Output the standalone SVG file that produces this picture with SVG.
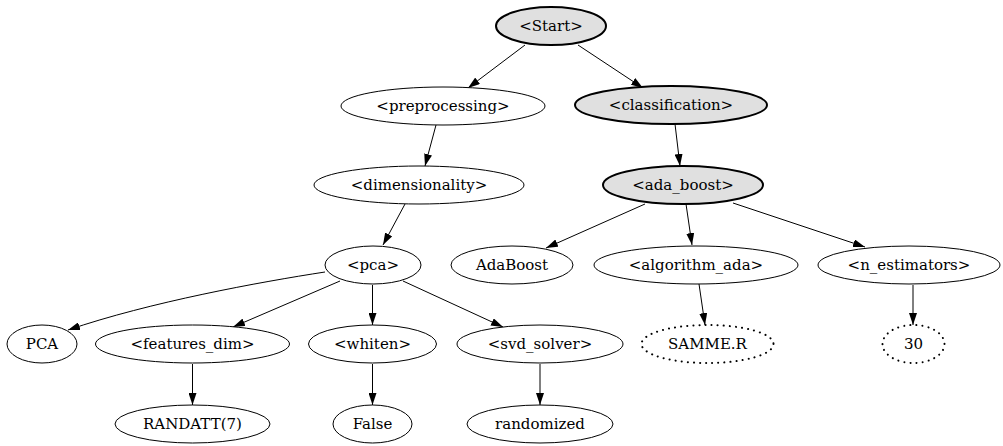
<svg xmlns="http://www.w3.org/2000/svg" width="1003" height="446" viewBox="0 0 1003 446">
<defs>
<marker id="ah" markerUnits="userSpaceOnUse" markerWidth="12" markerHeight="8" refX="12" refY="4" orient="auto">
<path d="M0,0 L12,4 L0,8 z" fill="#000"/>
</marker>
<style>
.n ellipse{fill:#fff;stroke:#000;stroke-width:1}
.g ellipse{fill:#e0e0e0;stroke:#000;stroke-width:2}
.d ellipse{fill:#fff;stroke:#000;stroke-width:2;stroke-dasharray:0.1 6;stroke-linecap:round}
text{font-family:"DejaVu Serif",serif;font-size:15px;text-anchor:middle;dominant-baseline:central;fill:#000}
#edges path,#edges line{stroke:#000;stroke-width:1;fill:none;marker-end:url(#ah)}
</style>
</defs>
<rect width="1003" height="446" fill="#fff"/>
<g id="edges">
<line x1="525" y1="45" x2="468" y2="88"/>
<line x1="578" y1="45" x2="643" y2="88"/>
<line x1="436" y1="125" x2="425" y2="166"/>
<line x1="675" y1="124" x2="680" y2="166"/>
<line x1="405" y1="204" x2="383" y2="245"/>
<path d="M325,272 C260,282 150,302 68,330"/>
<line x1="340" y1="281" x2="233" y2="327"/>
<line x1="372.5" y1="285" x2="372.5" y2="325"/>
<line x1="403" y1="281" x2="503" y2="327"/>
<line x1="192.5" y1="364" x2="192.5" y2="405"/>
<line x1="372.5" y1="364" x2="372.5" y2="405"/>
<line x1="540" y1="364" x2="540" y2="405"/>
<line x1="645" y1="204" x2="546" y2="248"/>
<line x1="686" y1="204" x2="692" y2="245"/>
<line x1="733" y1="203" x2="865" y2="247"/>
<line x1="699" y1="284" x2="705" y2="325"/>
<line x1="913" y1="285" x2="913" y2="325"/>
</g>
<g id="start" class="g"><ellipse cx="551" cy="26" rx="55" ry="19"/><text x="551" y="26">&lt;Start&gt;</text></g>
<g id="preprocessing" class="n"><ellipse cx="443" cy="106" rx="102" ry="19"/><text x="443" y="106">&lt;preprocessing&gt;</text></g>
<g id="classification" class="g"><ellipse cx="671" cy="105" rx="96" ry="19"/><text x="671" y="105">&lt;classification&gt;</text></g>
<g id="dimensionality" class="n"><ellipse cx="419" cy="185" rx="105" ry="19"/><text x="419" y="185">&lt;dimensionality&gt;</text></g>
<g id="ada_boost" class="g"><ellipse cx="683" cy="185" rx="80" ry="19"/><text x="683" y="185">&lt;ada_boost&gt;</text></g>
<g id="pca" class="n"><ellipse cx="373" cy="265" rx="48" ry="19"/><text x="373" y="265">&lt;pca&gt;</text></g>
<g id="AdaBoost" class="n"><ellipse cx="512" cy="265" rx="61" ry="19"/><text x="512" y="265">AdaBoost</text></g>
<g id="algorithm_ada" class="n"><ellipse cx="696" cy="265" rx="102" ry="19"/><text x="696" y="265">&lt;algorithm_ada&gt;</text></g>
<g id="n_estimators" class="n"><ellipse cx="909" cy="265" rx="91" ry="19"/><text x="909" y="265">&lt;n_estimators&gt;</text></g>
<g id="PCA" class="n"><ellipse cx="42" cy="344" rx="35" ry="19"/><text x="42" y="344">PCA</text></g>
<g id="features_dim" class="n"><ellipse cx="192.5" cy="344" rx="97" ry="19"/><text x="192.5" y="344">&lt;features_dim&gt;</text></g>
<g id="whiten" class="n"><ellipse cx="372.5" cy="344" rx="64" ry="19"/><text x="372.5" y="344">&lt;whiten&gt;</text></g>
<g id="svd_solver" class="n"><ellipse cx="540" cy="344" rx="83" ry="19"/><text x="540" y="344">&lt;svd_solver&gt;</text></g>
<g id="SAMME_R" class="d"><ellipse cx="707.5" cy="344" rx="66" ry="19"/><text x="707.5" y="344">SAMME.R</text></g>
<g id="v30" class="d"><ellipse cx="913.5" cy="344" rx="31" ry="19"/><text x="913.5" y="344">30</text></g>
<g id="RANDATT" class="n"><ellipse cx="192.5" cy="424" rx="77.5" ry="19"/><text x="192.5" y="424">RANDATT(7)</text></g>
<g id="False" class="n"><ellipse cx="372.5" cy="424" rx="39.5" ry="19"/><text x="372.5" y="424">False</text></g>
<g id="randomized" class="n"><ellipse cx="540" cy="424" rx="73" ry="19"/><text x="540" y="424">randomized</text></g>
</svg>
